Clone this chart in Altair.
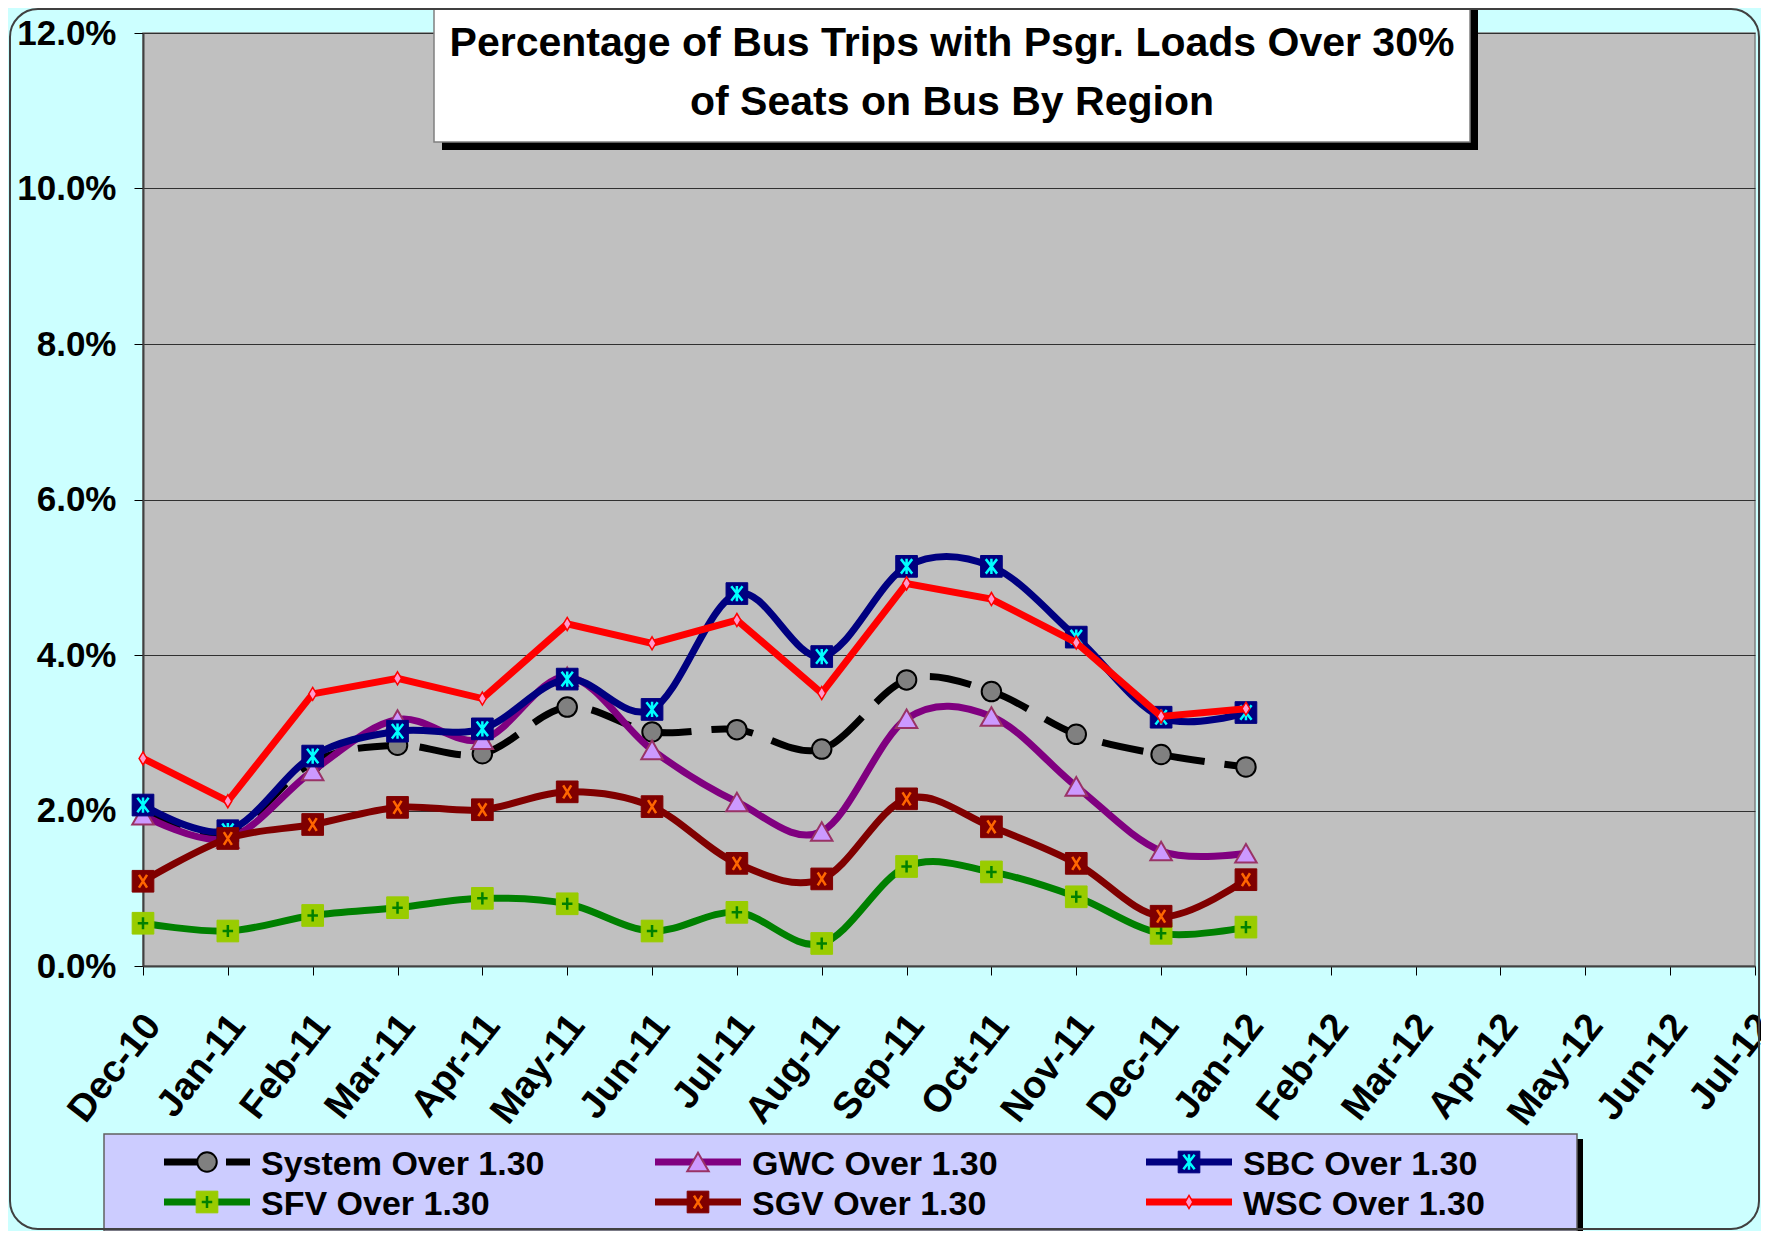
import altair as alt
import pandas as pd

# ---------------- data ----------------
months = ["Dec-10", "Jan-11", "Feb-11", "Mar-11", "Apr-11", "May-11", "Jun-11",
          "Jul-11", "Aug-11", "Sep-11", "Oct-11", "Nov-11", "Dec-11", "Jan-12",
          "Feb-12", "Mar-12", "Apr-12", "May-12", "Jun-12", "Jul-12"]

series_names = ["System Over 1.30", "GWC Over 1.30", "SBC Over 1.30",
                "SFV Over 1.30", "SGV Over 1.30", "WSC Over 1.30"]

system_vals = [2.03, 1.72, 2.62, 2.84, 2.73, 3.33, 3.01, 3.04, 2.79, 3.68, 3.53, 2.98, 2.72, 2.56]
gwc_vals = [1.94, 1.64, 2.51, 3.17, 2.91, 3.72, 2.78, 2.11, 1.73, 3.18, 3.21, 2.31, 1.48, 1.45]
sbc_vals = [2.07, 1.74, 2.70, 3.02, 3.05, 3.69, 3.30, 4.79, 3.98, 5.14, 5.14, 4.23, 3.20, 3.26]
sfv_vals = [0.55, 0.45, 0.65, 0.75, 0.87, 0.80, 0.45, 0.69, 0.29, 1.28, 1.21, 0.89, 0.42, 0.50]
sgv_vals = [1.09, 1.64, 1.82, 2.04, 2.01, 2.24, 2.05, 1.32, 1.12, 2.15, 1.79, 1.32, 0.64, 1.11]
wsc_vals = [2.67, 2.12, 3.50, 3.70, 3.44, 4.40, 4.15, 4.45, 3.51, 4.92, 4.72, 4.16, 3.21, 3.31]

y_ticks = [0, 2, 4, 6, 8, 10, 12]

title_lines = ["Percentage of Bus Trips with Psgr. Loads Over 30%",
               "of Seats on Bus By Region"]

all_vals = [system_vals, gwc_vals, sbc_vals, sfv_vals, sgv_vals, wsc_vals]
rows = []
for name, vals in zip(series_names, all_vals):
    for m, v in zip(months, vals):
        rows.append({"series": name, "month": m, "value": v})
df = pd.DataFrame(rows)

leg_df = pd.DataFrame({"series": series_names,
                       "col": [0, 1, 2, 0, 1, 2],
                       "row": [0, 0, 0, 1, 1, 1]})

# ---------------- styles ----------------
W, H = 1612, 933
FONT = "Liberation Sans, Arial, sans-serif"

ASTER = "M-0.7,-0.9L0.7,0.9M0.7,-0.9L-0.7,0.9M0,-0.95L0,0.95"
XMARK = "M-0.5,-0.8L0.5,0.8M0.5,-0.8L-0.5,0.8"
PLUS = "M0,-0.75L0,0.75M-0.65,0L0.65,0"
DIAM = "M0,-1L0.6,0L0,1L-0.6,0Z"

SQ = 470
GL = 260

styles = {
    "System Over 1.30": dict(color="#000000", dash=[42, 20], interp="cardinal",
                             markers=[dict(shape="circle", size=380, filled=True, fill="#808080",
                                           stroke="#000000", strokeWidth=2)]),
    "GWC Over 1.30": dict(color="#800080", dash=None, interp="cardinal",
                          markers=[dict(shape="triangle-up", size=460, filled=True, fill="#CC99FF",
                                        stroke="#993366", strokeWidth=2)]),
    "SBC Over 1.30": dict(color="#000080", dash=None, interp="cardinal",
                          markers=[dict(shape="square", size=SQ, filled=True, fill="#000080",
                                        stroke="#000080", strokeWidth=1),
                                   dict(shape=ASTER, size=GL, filled=False,
                                        stroke="#00FFFF", strokeWidth=2.5)]),
    "SFV Over 1.30": dict(color="#008000", dash=None, interp="cardinal",
                          markers=[dict(shape="square", size=SQ, filled=True, fill="#99CC00",
                                        stroke="#99CC00", strokeWidth=1),
                                   dict(shape=PLUS, size=GL, filled=False,
                                        stroke="#008000", strokeWidth=2.5)]),
    "SGV Over 1.30": dict(color="#800000", dash=None, interp="cardinal",
                          markers=[dict(shape="square", size=SQ, filled=True, fill="#800000",
                                        stroke="#800000", strokeWidth=1),
                                   dict(shape=XMARK, size=GL, filled=False,
                                        stroke="#FF6600", strokeWidth=2.5)]),
    "WSC Over 1.30": dict(color="#FF0000", dash=None, interp="linear",
                          markers=[dict(shape=DIAM, size=170, filled=True, fill="#FF99CC",
                                        stroke="#FF0000", strokeWidth=1.5)]),
}

x_enc = alt.X("month:N", sort=months,
              scale=alt.Scale(type="point", domain=months, padding=0),
              axis=alt.Axis(title=None, labelAngle=308, labelAlign="right",
                            labelBaseline="middle", labelPadding=44, labelOffset=10,
                            labelFont=FONT, labelFontSize=38, labelFontWeight="bold",
                            labelColor="#000000", tickSize=9, tickColor="#000000",
                            domainColor="#404040", domainWidth=2, grid=False,
                            labelOverlap=False, labelBound=False))
y_enc = alt.Y("value:Q", scale=alt.Scale(domain=[0, 12], nice=False, zero=True),
              axis=alt.Axis(title=None, values=y_ticks,
                            labelExpr="format(datum.value, '.1f') + '%'",
                            labelFont=FONT, labelFontSize=35, labelFontWeight="bold",
                            labelColor="#000000", labelPadding=18, tickSize=9,
                            tickColor="#000000", domainColor="#404040", domainWidth=2,
                            grid=True, gridColor="#303030", gridWidth=1.2))

base = alt.Chart(df)
plot_layers = []
for name in series_names:
    st = styles[name]
    sub = base.transform_filter(alt.datum.series == name)
    line_kw = dict(color=st["color"], strokeWidth=7, interpolate=st["interp"])
    if st["dash"]:
        line_kw["strokeDash"] = st["dash"]
    plot_layers.append(sub.mark_line(**line_kw).encode(x=x_enc, y=y_enc))
    for mk in st["markers"]:
        plot_layers.append(sub.mark_point(opacity=1, **mk).encode(x=x_enc, y=y_enc))

main = alt.layer(*plot_layers)

# ---------------- decorations: title box, legend ----------------
one = pd.DataFrame({"k": [0]})
idx = alt.Scale(domain=[0, W], range=[0, W], nice=False, zero=False)
idy = alt.Scale(domain=[0, H], range=[0, H], nice=False, zero=False)


def dx(field):
    return alt.X(field, type="quantitative", scale=idx, axis=None)


def dy(field):
    return alt.Y(field, type="quantitative", scale=idy, axis=None)


deco = []
# title box
deco.append(alt.Chart(one).mark_rect(color="#000000").encode(
    x=alt.value(299), x2=alt.value(1335), y=alt.value(-25), y2=alt.value(117)))
deco.append(alt.Chart(one).mark_rect(fill="#FFFFFF", stroke="#808080", strokeWidth=1.5).encode(
    x=alt.value(291), x2=alt.value(1327), y=alt.value(-40), y2=alt.value(109)))
title_df = pd.DataFrame({"text": title_lines, "line": [0, 1]})
deco.append(alt.Chart(title_df).mark_text(
    font=FONT, fontSize=41, fontWeight="bold", color="#000000",
    align="center", baseline="alphabetic").transform_calculate(
    tx="809", ty="23 + datum.line * 59").encode(
    x=dx("tx"), y=dy("ty"), text="text:N"))

# legend box
deco.append(alt.Chart(one).mark_rect(color="#000000").encode(
    x=alt.value(-34), x2=alt.value(1440), y=alt.value(1106), y2=alt.value(1205)))
deco.append(alt.Chart(one).mark_rect(fill="#CCCCFF", stroke="#606060", strokeWidth=1.5).encode(
    x=alt.value(-39), x2=alt.value(1434), y=alt.value(1101), y2=alt.value(1198)))

leg = alt.Chart(leg_df).transform_calculate(
    x0="21 + datum.col * 491", x1="107 + datum.col * 491",
    xm="64 + datum.col * 491", ly="1129 + datum.row * 40",
    tx="118 + datum.col * 491", ty="1142 + datum.row * 40")
for name in series_names:
    st = styles[name]
    sub = leg.transform_filter(alt.datum.series == name)
    rule_kw = dict(color=st["color"], strokeWidth=7)
    if st["dash"]:
        rule_kw["strokeDash"] = st["dash"]
    deco.append(sub.mark_rule(**rule_kw).encode(x=dx("x0"), x2="x1:Q", y=dy("ly")))
    for mk in st["markers"]:
        deco.append(sub.mark_point(opacity=1, **mk).encode(x=dx("xm"), y=dy("ly")))
deco.append(leg.mark_text(font=FONT, fontSize=34, fontWeight="bold", color="#000000",
                          align="left", baseline="alphabetic").encode(
    x=dx("tx"), y=dy("ty"), text="series:N"))

# outer rounded border
deco.append(alt.Chart(one).mark_rect(fill=None, stroke="#404040", strokeWidth=2,
                                     cornerRadius=28).encode(
    x=alt.value(-133), x2=alt.value(1616), y=alt.value(-24), y2=alt.value(1196)))

decor = alt.layer(*deco)

chart = alt.layer(main, decor).resolve_scale(x="independent", y="independent").properties(
    width=W, height=H,
    autosize=alt.AutoSizeParams(type="none"),
    padding={"left": 135, "top": 25, "right": 6, "bottom": 265},
).configure(background="#CCFFFF").configure_view(
    fill="#C0C0C0", stroke="#808080", strokeWidth=1.5)

chart.save("out.html", embed_options={"renderer": "svg", "actions": False})
